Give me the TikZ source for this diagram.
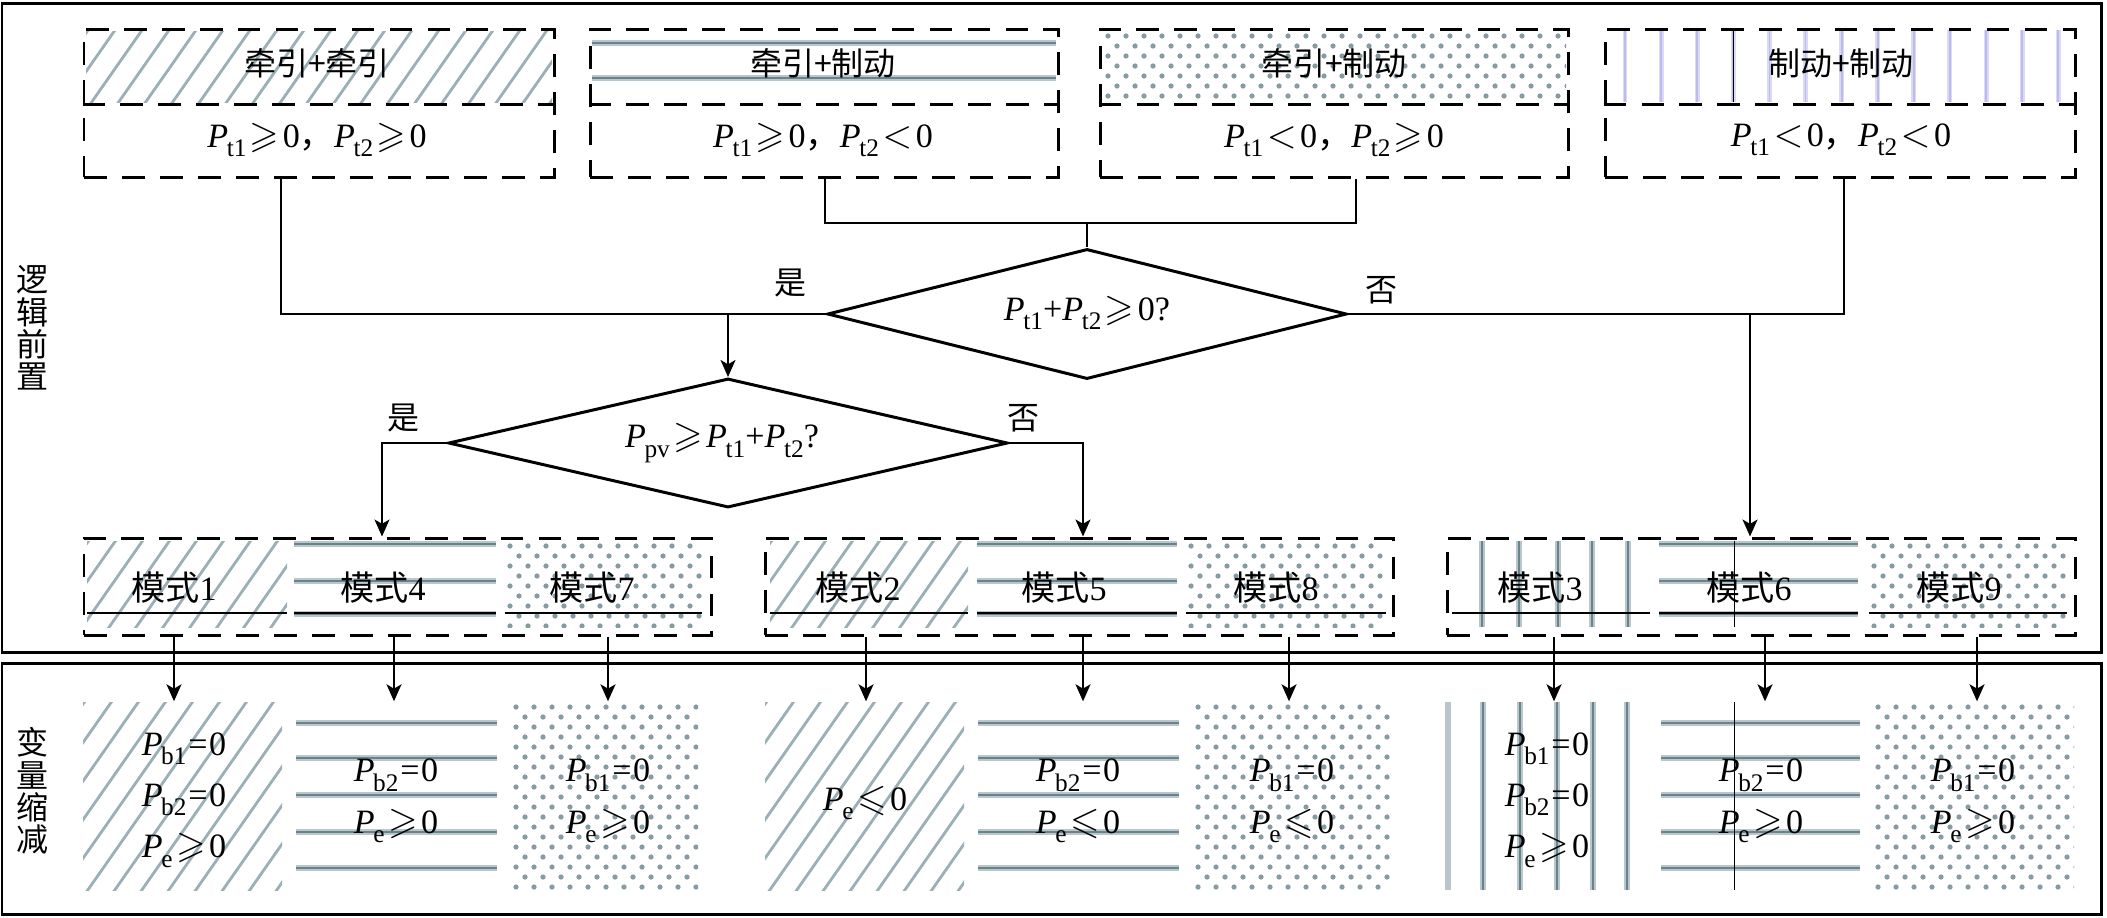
\documentclass[tikz,border=0pt]{standalone}
\usepackage{amssymb}
\usepackage{fontspec}
\setmainfont{Liberation Serif}
\newfontfamily\cjk{Noto Sans CJK SC}
\usetikzlibrary{shapes.geometric,arrows.meta,fit}
\definecolor{patc}{RGB}{105,130,140}
\definecolor{patl}{RGB}{185,198,204}
\definecolor{diagc}{RGB}{155,175,182}
\definecolor{dotc}{RGB}{135,155,163}
\definecolor{lavl}{RGB}{218,218,246}
\definecolor{lavd}{RGB}{188,188,236}
\newcommand\fs{\fontsize{9.7}{11}\selectfont}
\newcommand\cfs{\fontsize{9.1}{9.2}\selectfont\cjk}
\newcommand\Pv[1]{\textit{P}\kern-0.04em\raisebox{-0.6ex}{\fontsize{7.2}{8}\selectfont #1}}
\newcommand\GE{\kern0.1em{\fontsize{10.8}{11}\selectfont$\geqslant$}\kern0.1em}
\newcommand\LE{\kern0.1em{\fontsize{10.8}{11}\selectfont$\leqslant$}\kern0.1em}
\newcommand\LT{\kern0.1em{\fontsize{10.8}{11}\selectfont$<$}\kern0.1em}
\newcommand\EQ{\kern0.05em=\kern0.05em}
\newcommand\zcomma{{\cjk ，}}
\newcommand\diagpat[4]{%
  \begin{scope}
    \clip (#1,#2) rectangle (#3,#4);
    \pgfmathsetmacro\dh{#4-#2}
    \pgfmathtruncatemacro\dn{(#3-#1+0.7*\dh)/27+1}
    \foreach \k in {0,...,\dn}{
      \draw[diagl] ({#1-0.7*\dh+\k*27},{#4+2}) -- ++({0.7*(\dh+4)},{-(\dh+4)});
    }
  \end{scope}}
\newcommand\dotpat[4]{%
  \begin{scope}
    \clip (#1,#2) rectangle (#3,#4);
    \pgfmathtruncatemacro\nr{(#4-#2)/10+1}
    \pgfmathtruncatemacro\nc{(#3-#1)/18+1}
    \foreach \ri in {0,...,\nr}{
      \pgfmathsetmacro\off{mod(\ri,2)*9}
      \foreach \ci in {0,...,\nc}{
        \fill[dotc] ({#1+5+\off+\ci*18},{#2+5+\ri*10}) circle[radius=0.75pt];
      }}
  \end{scope}}
\newcommand\hstripe[3]{\draw[stripel] (#1,#3) -- (#2,#3); \draw[striped] (#1,#3) -- (#2,#3);}
\newcommand\vstripe[3]{\draw[stripel] (#1,#2) -- (#1,#3); \draw[striped] (#1,#2) -- (#1,#3);}
\begin{document}
\begin{tikzpicture}[x=0.01cm,y=-0.01cm,
  frame/.style={draw, line width=0.85pt, inner sep=0pt},
  dbox/.style={draw, line width=0.85pt, dash pattern=on 6.5pt off 4.3pt, inner sep=0pt},
  dashln/.style={line width=0.85pt, dash pattern=on 6.5pt off 4.3pt},
  conn/.style={line width=0.8pt},
  arr/.style={line width=0.8pt, -{Stealth[length=4.8pt, width=4.2pt, inset=1.2pt]}},
  dia/.style={draw, diamond, line width=0.85pt, inner sep=0pt},
  txt/.style={inner sep=0pt, font=\fs},
  ctxt/.style={inner sep=0pt, font=\cfs},
  btxt/.style={inner sep=0pt, align=center, font=\fontsize{9.7}{14.6}\selectfont},
  blk/.style={inner sep=0pt},
  diagl/.style={line width=0.8pt, diagc},
  stripel/.style={line width=1.5pt, patl},
  striped/.style={line width=0.6pt, patc},
  lavw/.style={line width=1.4pt, lavl},
  lavn/.style={line width=0.5pt, lavd},
  hair/.style={line width=0.3pt}]
\useasboundingbox (0,0) rectangle (2107,917);

% ---------- patterns: top boxes ----------
\diagpat{86}{31}{552}{102}
\foreach \yy in {43,78}{\hstripe{592}{1056}{\yy}}
\dotpat{1103}{31}{1566}{102}
\foreach \k in {0,...,12}{\pgfmathsetmacro\xx{1625+36.1*\k}
  \draw[lavw] (\xx,30) -- (\xx,102); \draw[lavn] (\xx,30) -- (\xx,102);}
\draw[hair] (1733,30) -- (1733,102);

% ---------- patterns: mode row ----------
\diagpat{87}{541}{287}{627}
\foreach \yy in {544,581,614}{\hstripe{294}{496}{\yy}}
\dotpat{505}{541}{702}{627}
\diagpat{770}{541}{968}{627}
\foreach \yy in {544,581,614}{\hstripe{977}{1177}{\yy}}
\dotpat{1186}{541}{1386}{627}
\foreach \xx in {1482,1519,1558,1592,1628}{\vstripe{\xx}{541}{627}}
\foreach \yy in {544,581,614}{\hstripe{1659}{1858}{\yy}}
\dotpat{1869}{541}{2067}{627}
\draw[hair] (1734,541) -- (1734,627);
\foreach \a/\b in {87/287,294/496,505/702,770/968,977/1177,1186/1386,1452/1650,1659/1858,1869/2067}
  {\draw[hair] (\a,613) -- (\b,613);}

% ---------- patterns: bottom row ----------
\diagpat{83}{702}{282}{890}
\foreach \yy in {723,758,795,832,868}{\hstripe{296}{497}{\yy}}
\dotpat{511}{702}{698}{890}
\diagpat{765}{702}{964}{890}
\foreach \yy in {723,758,795,832,868}{\hstripe{978}{1179}{\yy}}
\dotpat{1193}{702}{1393}{890}
\draw[stripel] (1448,702) -- (1448,890);
\foreach \xx in {1483,1520,1557,1593,1627}{\vstripe{\xx}{702}{890}}
\foreach \yy in {723,758,795,832,868}{\hstripe{1661}{1860}{\yy}}
\draw[hair] (1734,702) -- (1734,890);
\dotpat{1873}{702}{2074}{890}

% ---------- frames ----------
\node[frame, fit={(2,3) (2101,652)}] (ftop) {};
\node[frame, fit={(2,663) (2101,914.5)}] (fbot) {};
\node[ctxt, align=center] (s1) at (32,328) {逻\\辑\\前\\置};
\node[ctxt, align=center] (s2) at (32,791) {变\\量\\缩\\减};

% ---------- top boxes ----------
\node[dbox, fit={(84,29) (554,177)}] (b1) {};
\node[dbox, fit={(590,29) (1058,177)}] (b2) {};
\node[dbox, fit={(1100,29) (1568,177)}] (b3) {};
\node[dbox, fit={(1605,29) (2075,177)}] (b4) {};
\coordinate (mid) at (0,104);
\foreach \b in {b1,b2,b3,b4}{\draw[dashln] (\b.west |- mid) -- (\b.east |- mid);}
\node[ctxt] (h1) at (317,63) {牵引+牵引};
\node[ctxt] (h2) at (823,63) {牵引+制动};
\node[ctxt] (h3) at (1334,63) {牵引+制动};
\node[ctxt] (h4) at (1841,63) {制动+制动};
\node[txt] (g1) at (317,140) {\Pv{t1}\GE 0\zcomma\Pv{t2}\GE 0};
\node[txt] (g2) at (823,140) {\Pv{t1}\GE 0\zcomma\Pv{t2}\LT 0};
\node[txt] (g3) at (1334,140) {\Pv{t1}\LT 0\zcomma\Pv{t2}\GE 0};
\node[txt] (g4) at (1841,140) {\Pv{t1}\LT 0\zcomma\Pv{t2}\LT 0};

% ---------- decisions ----------
\node[dia, minimum width=5.19cm, minimum height=1.30cm] (d1) at (1087,314) {};
\node[txt] (d1t) at (1087,313) {\Pv{t1}+\Pv{t2}\GE 0?};
\node[dia, minimum width=5.59cm, minimum height=1.29cm] (d2) at (728,443) {};
\node[txt] (d2t) at (722,443) {\Pv{pv}\GE\Pv{t1}+\Pv{t2}?};
\node[ctxt] (y1) at (790,283) {是};
\node[ctxt] (n1) at (1381,290) {否};
\node[ctxt] (y2) at (403,418) {是};
\node[ctxt] (n2) at (1023,418) {否};

% ---------- mode boxes ----------
\node[dbox, fit={(84,538) (711,635)}] (m1) {};
\node[dbox, fit={(765,538) (1393,635)}] (m2) {};
\node[dbox, fit={(1447,538) (2075,635)}] (m3) {};
\foreach \x/\n/\nm in {174/1/q1,383/4/q4,592/7/q7,858/2/q2,1064/5/q5,1276/8/q8,1540/3/q3,1749/6/q6,1959/9/q9}
  {\node[txt] (\nm) at (\x,588) {{\cjk 模式}\n};}

% ---------- result blocks ----------
\node[blk, fit={(83,702) (282,890)}] (r1) {};
\node[blk, fit={(296,702) (497,890)}] (r4) {};
\node[blk, fit={(511,702) (698,890)}] (r7) {};
\node[blk, fit={(765,702) (964,890)}] (r2) {};
\node[blk, fit={(978,702) (1179,890)}] (r5) {};
\node[blk, fit={(1193,702) (1393,890)}] (r8) {};
\node[blk, fit={(1447,702) (1630,890)}] (r3) {};
\node[blk, fit={(1661,702) (1860,890)}] (r6) {};
\node[blk, fit={(1873,702) (2074,890)}] (r9) {};
\node[btxt] (t1) at (184,800) {\Pv{b1}\EQ 0\\\Pv{b2}\EQ 0\\\Pv{e}\GE 0};
\node[btxt] (t4) at (396,801) {\Pv{b2}\EQ 0\\\Pv{e}\GE 0};
\node[btxt] (t7) at (608,801) {\Pv{b1}\EQ 0\\\Pv{e}\GE 0};
\node[btxt] (t2) at (865,803) {\Pv{e}\LE 0};
\node[btxt] (t5) at (1078,801) {\Pv{b2}\EQ 0\\\Pv{e}\LE 0};
\node[btxt] (t8) at (1292,801) {\Pv{b1}\EQ 0\\\Pv{e}\LE 0};
\node[btxt] (t3) at (1547,800) {\Pv{b1}\EQ 0\\\Pv{b2}\EQ 0\\\Pv{e}\GE 0};
\node[btxt] (t6) at (1761,801) {\Pv{b2}\EQ 0\\\Pv{e}\GE 0};
\node[btxt] (t9) at (1973,801) {\Pv{b1}\EQ 0\\\Pv{e}\GE 0};

% ---------- connectors ----------
\coordinate (j1) at (281,314);
\draw[conn] (b1.south -| j1) -- (j1) -- (d1.west);
\coordinate (c2) at (825,223);
\coordinate (c3) at (1356,223);
\coordinate (j2) at (1087,223);
\draw[conn] (b2.south -| c2) -- (c2) -- (c3) -- (b3.south -| c3);
\draw[conn] (j2) -- (d1.north);
\coordinate (j4) at (1844,314);
\draw[conn] (b4.south -| j4) -- (j4) -- (d1.east);
\coordinate (a0) at (728,314);
\draw[arr] (a0) -- (d2.north);
\coordinate (a3) at (1750,314);
\draw[arr] (a3) -- (m3.north -| a3);
\coordinate (k1) at (382,443);
\draw[arr] (d2.west) -- (k1) -- (m1.north -| k1);
\coordinate (k2) at (1083,443);
\draw[arr] (d2.east) -- (k2) -- (m2.north -| k2);
\foreach \x/\m/\r in {174/m1/r1,394/m1/r4,608/m1/r7,866/m2/r2,1083/m2/r5,1289/m2/r8,1554/m3/r3,1765/m3/r6,1977/m3/r9}
  {\coordinate (ax) at (\x,0); \draw[arr] (\m.south -| ax) -- (\r.north -| ax);}
\end{tikzpicture}
\end{document}
